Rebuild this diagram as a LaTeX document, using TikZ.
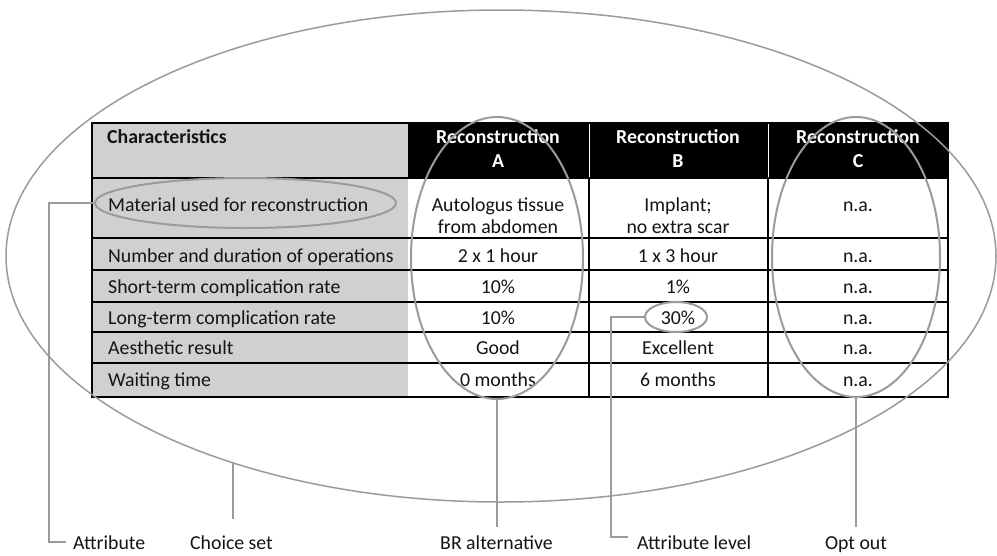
\documentclass[tikz,border=0pt]{standalone}
\usepackage{fontspec}
\setmainfont{Carlito}
\usetikzlibrary{shapes.geometric}
\definecolor{ringgray}{RGB}{155,155,155}
\definecolor{cellgray}{RGB}{208,208,208}
\definecolor{txt}{RGB}{20,20,20}
\tikzset{
  ring/.style={draw=ringgray, line width=2pt, ellipse, inner sep=0pt, outer sep=0pt, fill=none},
  leader/.style={draw=ringgray, line width=2pt},
  cell/.style={font=\fontsize{19.8}{22}\selectfont, text=txt, inner sep=0pt, anchor=base},
  rowlab/.style={cell, anchor=base west},
  head/.style={font=\fontsize{19.8}{22}\selectfont\bfseries, text=white, inner sep=0pt, anchor=base},
  lab/.style={font=\fontsize{19.8}{22}\selectfont, text=txt, inner sep=0pt, anchor=base},
  grid/.style={draw=black, line width=1.4pt}
}
\begin{document}
\begin{tikzpicture}[x=1pt,y=-1pt]
\useasboundingbox[fill=white] (0,0) rectangle (997,555);
% table backgrounds
\fill[cellgray] (92,123) rectangle (408,397);
\fill[black] (408,123) rectangle (948,178);
\draw[white, line width=0.8pt] (589,123) -- (589,178) (768,123) -- (768,178);
% grid
\foreach \yy in {178,238,270,302,332,363} \draw[grid] (92,\yy) -- (948,\yy);
\draw[grid] (589,178) -- (589,397) (768,178) -- (768,397);
\draw[grid] (92,123) rectangle (948,397);
% header
\node[head, text=txt, anchor=base west] (hchar) at (107,143) {Characteristics};
\node[head] (hA1) at (498,143) {Reconstruction};
\node[head] (hA2) at (498,167) {A};
\node[head] (hB1) at (678,143) {Reconstruction};
\node[head] (hB2) at (678,167) {B};
\node[head] (hC1) at (858,143) {Reconstruction};
\node[head] (hC2) at (858,167) {C};
% row labels
\node[rowlab] (r1) at (108,211) {Material used for reconstruction};
\node[rowlab] (r2) at (108,262) {Number and duration of operations};
\node[rowlab] (r3) at (108,293) {Short-term complication rate};
\node[rowlab] (r4) at (108,324) {Long-term complication rate};
\node[rowlab] (r5) at (108,354) {Aesthetic result};
\node[rowlab] (r6) at (108,386) {Waiting time};
% column A
\node[cell] (a1a) at (498,211) {Autologus tissue};
\node[cell] (a1b) at (498,233) {from abdomen};
\node[cell] (a2) at (498,262) {2 x 1 hour};
\node[cell] (a3) at (498,293) {10\%};
\node[cell] (a4) at (498,324) {10\%};
\node[cell] (a5) at (498,354) {Good};
\node[cell] (a6) at (498,386) {0 months};
% column B
\node[cell] (b1a) at (678,211) {Implant;};
\node[cell] (b1b) at (678,233) {no extra scar};
\node[cell] (b2) at (678,262) {1 x 3 hour};
\node[cell] (b3) at (678,293) {1\%};
\node[cell] (b4) at (678,324) {30\%};
\node[cell] (b5) at (678,354) {Excellent};
\node[cell] (b6) at (678,386) {6 months};
% column C
\node[cell] (c1) at (858,211) {n.a.};
\node[cell] (c2) at (858,262) {n.a.};
\node[cell] (c3) at (858,293) {n.a.};
\node[cell] (c4) at (858,324) {n.a.};
\node[cell] (c5) at (858,354) {n.a.};
\node[cell] (c6) at (858,386) {n.a.};
% ellipses
\node[ring, line width=1.5pt, minimum width=990pt, minimum height=492pt] (bigell) at (501,256) {};
\node[ring, minimum width=172pt, minimum height=282pt] (ellA) at (497,258) {};
\node[ring, minimum width=168pt, minimum height=280pt] (ellC) at (856,257) {};
\node[ring, minimum width=301pt, minimum height=50pt] (ellM) at (245.5,203) {};
\node[ring, minimum width=62pt, minimum height=30pt] (ell30) at (676,317) {};
% bottom labels
\node[lab, anchor=base west] (lAttr) at (73,549) {Attribute};
\node[lab] (lChoice) at (231.5,549) {Choice set};
\node[lab] (lBR) at (496.5,549) {BR alternative};
\node[lab, anchor=base west] (lLevel) at (637,549) {Attribute level};
\node[lab] (lOpt) at (856,549) {Opt out};
% leader coordinates
\coordinate (attrA) at (49,203);
\coordinate (attrB) at (49,542);
\coordinate (attrC) at (66,542);
\coordinate (csTop) at (233,462);
\coordinate (csBot) at (233,519);
\coordinate (brBot) at (497,527);
\coordinate (lvA) at (611,317);
\coordinate (lvB) at (611,537);
\coordinate (lvC) at (628,537);
\coordinate (ooBot) at (856,527);
% leaders
\draw[leader] (ellM.west) -- (attrA) -- (attrB) -- (attrC);
\draw[leader] (csTop) -- (csBot);
\draw[leader] (ellA.south) -- (brBot);
\draw[leader] (ell30.west) -- (lvA) -- (lvB) -- (lvC);
\draw[leader] (ellC.south) -- (ooBot);
\end{tikzpicture}
\end{document}
